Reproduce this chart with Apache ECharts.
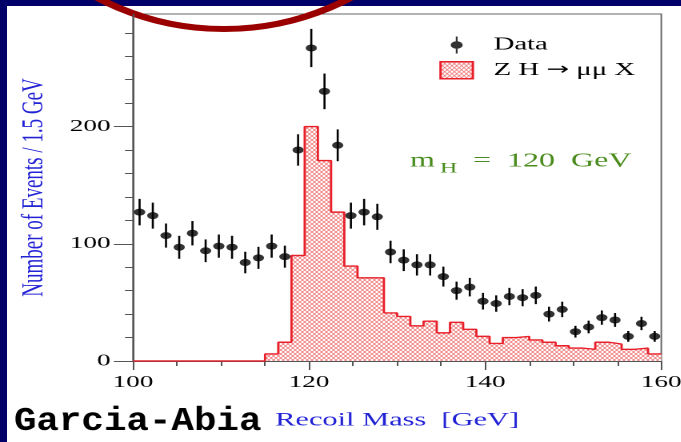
<!DOCTYPE html>
<html>
<head>
<meta charset="utf-8">
<script src="https://cdn.jsdelivr.net/npm/echarts@6/dist/echarts.min.js"></script>
<style>
  html, body { margin: 0; padding: 0; width: 681px; height: 442px; overflow: hidden; background: #000068; }
  #paper { position: absolute; left: 7px; top: 6px; width: 674px; height: 436px; background: #fff; }
  /* the scanned plot is stretched sideways, so draw narrow and stretch */
  #chart { position: absolute; left: 0; top: 0; width: 425.625px; height: 442px; transform: scaleX(1.6); transform-origin: 0 0; }
</style>
</head>
<body>
<div id="paper"></div>
<div id="chart"></div>
<script>
// recoil mass histogram, 1.5 GeV bins from 100 to 160
const binStart = 100;
const binWidth = 1.5;
const dataCounts = [127, 124, 107, 97, 109, 94, 98, 97, 84, 88,
                    98, 89, 180, 267, 230, 184, 124, 127, 123, 93,
                    86, 82, 82, 72, 60, 63, 51, 49, 55, 54,
                    56, 40, 44, 25, 29, 37, 35, 21, 32, 21];
const dataErrors = [11.3, 11.1, 10.3, 9.8, 10.4, 9.7, 9.9, 9.8, 9.2, 9.4,
                    9.9, 9.4, 13.4, 16.3, 15.2, 13.6, 11.1, 11.3, 11.1, 9.6,
                    9.3, 9.1, 9.1, 8.5, 7.7, 7.9, 7.1, 7.0, 7.4, 7.3,
                    7.5, 6.3, 6.6, 5.0, 5.4, 6.1, 5.9, 4.6, 5.7, 4.6];
const signalCounts = [0, 0, 0, 0, 0, 0, 0, 0, 0, 0,
                      6, 16, 90, 200, 171, 127, 81, 71, 71, 41,
                      38, 30, 34, 24, 33, 27, 21, 15, 20, 21,
                      18, 16, 13, 11, 10, 16, 14.5, 10, 11, 6];
const yMajorTicks = [0, 100, 200];
const yMinorTicks = [20, 40, 60, 80, 120, 140, 160, 180, 220, 240, 260, 280];

const serif = 'Liberation Serif';

function hatch() {
  const c = document.createElement('canvas');
  c.width = 6; c.height = 8;
  const g = c.getContext('2d');
  g.fillStyle = '#fff';
  g.fillRect(0, 0, 6, 8);
  g.strokeStyle = '#ee7070';
  g.lineWidth = 1.1;
  g.beginPath();
  g.moveTo(0, 0); g.lineTo(6, 8);
  g.moveTo(6, 0); g.lineTo(0, 8);
  g.stroke();
  return { image: c, repeat: 'repeat', scaleX: 0.5, scaleY: 0.5 };
}

// points for the step outline, one per bin edge
const signalSteps = signalCounts.map((v, i) => [binStart + i * binWidth, v]);
signalSteps.push([binStart + signalCounts.length * binWidth, signalCounts[signalCounts.length - 1]]);

const points = dataCounts.map((v, i) => [binStart + (i + 0.5) * binWidth, v]);
const bars = dataCounts.map((v, i) => [binStart + (i + 0.5) * binWidth, v - dataErrors[i], v + dataErrors[i]]);

const myChart = echarts.init(document.getElementById('chart'), null, { devicePixelRatio: 2 });

const option = {
  animation: false,
  grid: {
    left: 83.125, right: 12.69, top: 14, bottom: 81,
    show: true, borderColor: '#666', borderWidth: 1, backgroundColor: 'transparent',
    outerBoundsMode: 'none'
  },
  legend: {
    orient: 'vertical',
    left: 269.6,
    top: 31,
    itemWidth: 36,
    itemHeight: 17,
    itemGap: 7,
    formatter: function (name) {
      return name === 'Data' ? '{t|Data}' : '{t|Z H }{r|→}{t| μμ X}';
    },
    textStyle: {
      fontFamily: serif, fontSize: 18, color: '#000',
      rich: {
        t: { fontFamily: serif, fontSize: 18, color: '#000' },
        r: { fontFamily: 'DejaVu Sans', fontSize: 17, color: '#000' }
      }
    },
    data: [
      { name: 'Data', icon: 'path://M3.4,0h1.2v18h-1.2z M0,9a4,4 0 1,1 8,0a4,4 0 1,1 -8,0z', itemStyle: { color: '#000' } },
      { name: 'Z H → μμ X', icon: 'path://M0,0h19v16h-19z', itemStyle: { color: hatch(), borderColor: '#e8202a', borderWidth: 1.5 } }
    ]
  },
  xAxis: {
    type: 'value', min: 100, max: 160, interval: 20,
    axisLine: { show: true, onZero: false, lineStyle: { color: '#555' } },
    axisTick: { show: true, length: 9, lineStyle: { color: '#555' } },
    minorTick: { show: true, splitNumber: 4, length: 5, lineStyle: { color: '#555' } },
    splitLine: { show: false },
    axisLabel: { margin: 13, color: '#000', fontFamily: serif, fontSize: 17 },
    name: 'Recoil Mass  [GeV]', nameLocation: 'middle', nameGap: 50,
    nameTextStyle: { color: '#2323d6', fontFamily: serif, fontSize: 19 }
  },
  yAxis: [
    {
      type: 'value', min: 0, max: 296, position: 'left',
      axisLine: { show: true, lineStyle: { color: '#555' } },
      axisTick: { show: true, length: 5, customValues: yMinorTicks, lineStyle: { color: '#555' } },
      axisLabel: { show: false },
      splitLine: { show: false },
      name: 'Number of Events / 1.5 GeV', nameLocation: 'middle', nameGap: 52, nameRotate: 90,
      nameTextStyle: { color: '#2323d6', fontFamily: serif, fontSize: 19 }
    },
    {
      type: 'value', min: 0, max: 296, position: 'left',
      axisLine: { show: false },
      axisTick: { show: true, length: 12, customValues: yMajorTicks, lineStyle: { color: '#555' } },
      axisLabel: { customValues: yMajorTicks, margin: 14, color: '#000', fontFamily: serif, fontSize: 17 },
      splitLine: { show: false }
    }
  ],
  series: [
    {
      name: 'Z H → μμ X',
      type: 'line',
      step: 'end',
      data: signalSteps,
      symbol: 'none',
      lineStyle: { color: '#e8202a', width: 1.4 },
      itemStyle: { color: '#e8202a' },
      areaStyle: { color: hatch(), opacity: 1 }
    },
    {
      type: 'custom',
      data: bars,
      renderItem: function (params, api) {
        const p1 = api.coord([api.value(0), api.value(1)]);
        const p2 = api.coord([api.value(0), api.value(2)]);
        return {
          type: 'line',
          shape: { x1: p1[0], y1: p1[1], x2: p2[0], y2: p2[1] },
          style: { stroke: '#000', lineWidth: 1.3 }
        };
      }
    },
    {
      name: 'Data',
      type: 'scatter',
      data: points,
      symbol: 'circle',
      symbolSize: 7,
      itemStyle: { color: '#000' }
    }
  ],
  graphic: [
    { type: 'ellipse', silent: true, shape: { cx: 140, cy: -242, rx: 169.4, ry: 271 },
      style: { fill: 'transparent', stroke: '#9b0000', lineWidth: 6 } },
    { type: 'text', x: 256.3, y: 151, silent: true,
      style: { text: 'm', font: '20px "Liberation Serif"', fill: '#4a8c1e' } },
    { type: 'text', x: 275, y: 161, silent: true,
      style: { text: 'H', font: '15px "Liberation Serif"', fill: '#4a8c1e' } },
    { type: 'text', x: 295.6, y: 151, silent: true,
      style: { text: '=  120  GeV', font: '20px "Liberation Serif"', fill: '#4a8c1e' } },
    { type: 'text', x: 8.75, y: 405, scaleX: 0.71, silent: true,
      style: { text: 'Garcia-Abia', font: 'bold 33px "Liberation Mono"', fill: '#000' } }
  ]
};

myChart.setOption(option);
</script>
</body>
</html>
